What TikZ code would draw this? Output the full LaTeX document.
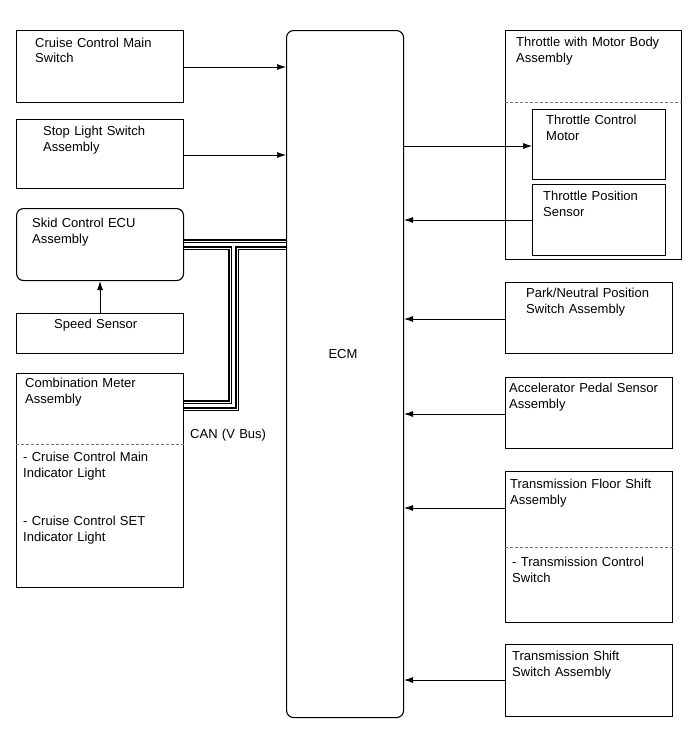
\documentclass[tikz,border=0pt]{standalone}
\usepackage{fontspec}
\setmainfont{Liberation Sans}
\usetikzlibrary{arrows.meta}
\begin{document}
\begin{tikzpicture}[x=1pt,y=-1pt,
  box/.style={draw, line width=1.1pt, anchor=north west, inner sep=0pt},
  rbox/.style={box, rounded corners=7pt},
  txt/.style={anchor=base west, inner sep=0pt, text width=175pt, align=left, font=\fontsize{13}{15.5}\selectfont},
  arr/.style={-{Latex[length=9pt,width=6pt]}, line width=0.7pt},
  sepline/.style={dash pattern=on 3pt off 2pt, line width=0.7pt, black!55},
  canwire/.style={double, double distance=1pt, line width=1.3pt, line join=miter}]
\useasboundingbox (0,0) rectangle (689,756);
% boxes
\node[box, minimum width=167pt, minimum height=72pt] (cmain) at (16,30) {};
\node[box, minimum width=167pt, minimum height=69pt] (stop) at (16,119) {};
\node[rbox, minimum width=167pt, minimum height=72pt] (skid) at (16,208) {};
\node[box, minimum width=167pt, minimum height=40pt] (speed) at (16,313) {};
\node[box, minimum width=167pt, minimum height=214pt] (comb) at (16,373) {};
\node[rbox, minimum width=117pt, minimum height=687pt] (ecm) at (286,30) {};
\node[box, minimum width=176pt, minimum height=229pt] (thr) at (505,30) {};
\node[box, minimum width=133pt, minimum height=70pt] (tcm) at (532,109) {};
\node[box, minimum width=133pt, minimum height=71pt] (tps) at (532,184) {};
\node[box, minimum width=167pt, minimum height=71pt] (park) at (505,282) {};
\node[box, minimum width=167pt, minimum height=71pt] (accel) at (505,377) {};
\node[box, minimum width=167pt, minimum height=151pt] (floor) at (505,471) {};
\node[box, minimum width=167pt, minimum height=72pt] (shift) at (505,644) {};
% dashed separators
\draw[sepline] (comb.west |- 0,444) -- (comb.east |- 0,444);
\draw[sepline] (thr.west |- 0,102) -- (thr.east |- 0,102);
\draw[sepline] (floor.west |- 0,547) -- (floor.east |- 0,547);
% texts
\node[txt] (t-cmain) at (35,47) {Cruise Control Main\\Switch};
\node[txt] (t-stop) at (43,135.5) {Stop Light Switch\\Assembly};
\node[txt] (t-skid) at (32,227.5) {Skid Control ECU\\Assembly};
\node[txt] (t-speed) at (54,328.5) {Speed Sensor};
\node[txt] (t-comb) at (25,387.5) {Combination Meter\\Assembly};
\node[txt] (t-comb1) at (23,461.5) {- Cruise Control Main\\Indicator Light};
\node[txt] (t-comb2) at (23,525.5) {- Cruise Control SET\\Indicator Light};
\node[txt] (t-can) at (190,438) {CAN (V Bus)};
\node[anchor=base, inner sep=0pt, font=\fontsize{13}{15.5}\selectfont] (t-ecm) at (343,358) {ECM};
\node[txt] (t-thr) at (516,46.5) {Throttle with Motor Body\\Assembly};
\node[txt] (t-tcm) at (546,124.5) {Throttle Control\\Motor};
\node[txt] (t-tps) at (543,200.5) {Throttle Position\\Sensor};
\node[txt] (t-park) at (526,297.5) {Park/Neutral Position\\Switch Assembly};
\node[txt] (t-accel) at (509,392.5) {Accelerator Pedal Sensor\\Assembly};
\node[txt] (t-floor) at (510,488.5) {Transmission Floor Shift\\Assembly};
\node[txt] (t-floor1) at (512,566.5) {- Transmission Control\\Switch};
\node[txt] (t-shift) at (512,660.5) {Transmission Shift\\Switch Assembly};
% arrows
\draw[arr] (cmain.east |- 0,67) -- (ecm.west |- 0,67);
\draw[arr] (stop.east |- 0,155) -- (ecm.west |- 0,155);
\draw[arr] (ecm.east |- 0,146) -- (tcm.west |- 0,146);
\draw[arr] (tps.west |- 0,220) -- (ecm.east |- 0,220);
\draw[arr] (park.west |- 0,319) -- (ecm.east |- 0,319);
\draw[arr] (accel.west |- 0,414) -- (ecm.east |- 0,414);
\draw[arr] (floor.west |- 0,508) -- (ecm.east |- 0,508);
\draw[arr] (shift.west |- 0,680) -- (ecm.east |- 0,680);
\draw[arr] (speed.north) -- (skid.south);
% CAN bus
\draw[canwire] (skid.east |- 0,241) -- (ecm.west |- 0,241);
\draw[canwire] (skid.east |- 0,248) -- (230,248) -- (230,402) -- (comb.east |- 0,402);
\draw[canwire] (ecm.west |- 0,248) -- (237,248) -- (237,409) -- (comb.east |- 0,409);
\end{tikzpicture}
\end{document}
